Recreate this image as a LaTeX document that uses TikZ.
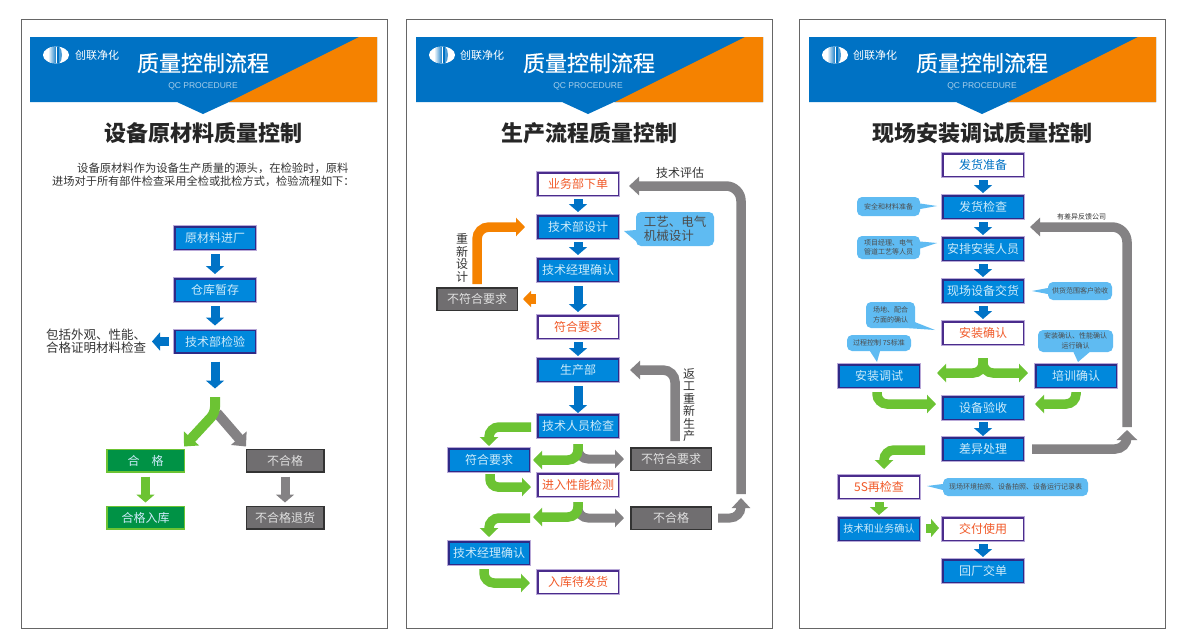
\documentclass[tikz,border=0pt]{standalone}
\usepackage{fontspec}
\usetikzlibrary{arrows.meta,calc}
\setmainfont{Noto Sans CJK SC}
\setsansfont{Liberation Sans}
\newfontfamily\titlefont[FakeBold=0.6]{Noto Sans CJK SC}
\definecolor{hblue}{HTML}{0072C4}
\definecolor{horange}{HTML}{F58200}
\definecolor{bfill}{HTML}{0088DC}
\definecolor{bline}{HTML}{2E2A86}
\definecolor{wline}{HTML}{4A2C8C}
\definecolor{halo}{HTML}{B9A9D8}
\definecolor{tlight}{HTML}{CDEBFA}
\definecolor{tred}{HTML}{F15A29}
\definecolor{ggreen}{HTML}{6CC333}
\definecolor{dgreen}{HTML}{009245}
\definecolor{ggray}{HTML}{848284}
\definecolor{bub}{HTML}{5FBBF2}
\definecolor{arblue}{HTML}{0073C6}
\tikzset{
 x=1pt,y=-1pt,
 boxbase/.style={rectangle,minimum width=80.5pt,minimum height=22.5pt,inner sep=0pt,line width=1.5pt,font=\fontsize{12}{14}\selectfont},
 bluebox/.style={boxbase,draw=bline,fill=bfill,text=tlight,preaction={draw=halo,line width=2.6pt}},
 whitebox/.style={boxbase,draw=wline,fill=white,text=tred,preaction={draw=halo,line width=2.6pt}},
 greenbox/.style={boxbase,draw=ggreen,fill=dgreen,text=tlight,minimum width=77.5pt},
 graybox/.style={boxbase,draw=black!80,fill=ggray!85!black,text=white!88!black},
 blueflow/.style={draw=arblue,line width=9pt,-{Triangle[width=18pt,length=8pt]}},
 greenflow/.style={draw=ggreen,line width=9.5pt,rounded corners=10pt,-{Triangle[width=18pt,length=9pt]}},
 grayflow/.style={draw=ggray,line width=9pt,rounded corners=10pt,-{Triangle[width=18pt,length=9pt]}},
 longgray/.style={draw=ggray,line width=9.5pt,rounded corners=15pt,-{Triangle[width=18pt,length=10pt]}},
 orangeflow/.style={draw=horange,line width=9.5pt,rounded corners=12pt,-{Triangle[width=18pt,length=9pt]}},
 bubble/.style={fill=bub,rounded corners=5pt,inner sep=0pt,text=black!70,align=center},
 bubbletail/.style={fill=bub},
 smalltxt/.style={font=\fontsize{7}{9.5}\selectfont},
 lbl/.style={inner sep=0pt,text=black!80,font=\fontsize{12}{13}\selectfont,align=center},
 panelframe/.style={draw=black!60,line width=0.9pt,fill=white},
 title/.style={inner sep=0pt,text=white,font=\titlefont\fontsize{22}{24}\selectfont},
 subtitle/.style={inner sep=0pt,text=black!85,font=\fontsize{22}{24}\bfseries\selectfont},
 qc/.style={inner sep=0pt,text=white!65!hblue,font=\sffamily\fontsize{8.5}{9}\selectfont},
 logotxt/.style={inner sep=0pt,text=white,font=\fontsize{11}{12}\selectfont},
}
\newcommand{\panelhead}[7]{% x0, frame left, logo cx, logotext cx, title cx, qc cx, notch tip x
 \draw[panelframe] (#2,19) rectangle ++(366,609);
 \fill[hblue] (#1,37) -- ++(347,0) -- ++(0,65) -- (#7+26,102) -- (#7,114) -- (#7-26,102) -- (#1,102) -- cycle;
 \fill[horange] (#1+329,37) -- ++(18,0) -- ++(0,65) -- ++(-148,0) -- cycle;
 \fill[white] (#3,55) ellipse [x radius=13,y radius=8.5];
 \begin{scope}
  \clip (#3,55) ellipse [x radius=13,y radius=8.5];
  \shade[left color=white,right color=hblue!85] (#3-8,46) rectangle (#3-0.5,64);
  \fill[hblue] (#3+0.5,46) rectangle (#3+3,64);
  \fill[hblue!70] (#3+3,46) .. controls (#3+7,50) and (#3+7,60) .. (#3+3,64) -- cycle;
 \end{scope}
 \node[logotxt] (lg#1) at (#4,55) {创联净化};
 \node[title] (ti#1) at (#5,63) {质量控制流程};
 \node[qc] (qc#1) at (#6,86) {QC PROCEDURE};
}
\begin{document}
\begin{tikzpicture}
\useasboundingbox (0,0) rectangle (1186,643);
\fill[white] (0,0) rectangle (1186,643);
% ---------- headers
\panelhead{30}{21}{56}{97}{203}{203}{203}
\panelhead{416}{406}{442}{482}{589}{588}{588}
\panelhead{809}{799}{835}{875}{982}{982}{982}
\node[subtitle] (s1) at (203.5,133) {设备原材料质量控制};
\node[subtitle] (s2) at (589,133) {生产流程质量控制};
\node[subtitle] (s3) at (982.5,133) {现场安装调试质量控制};
% ---------- panel 1
\node[inner sep=0pt,text=black!80,font=\fontsize{11.3}{13}\selectfont,anchor=west] (t1a) at (77,168) {设备原材料作为设备生产质量的源头，在检验时，原料};
\node[inner sep=0pt,text=black!80,font=\fontsize{11.2}{13}\selectfont,anchor=west] (t1b) at (52,181) {进场对于所有部件检查采用全检或批检方式，检验流程如下：};
\node[bluebox] (a1) at (215,238) {原材料进厂};
\node[bluebox] (a2) at (215,290) {仓库暂存};
\node[bluebox] (a3) at (215,341.5) {技术部检验};
\node[greenbox] (a4) at (145.5,460.5) {合\hspace{1em}格};
\node[graybox,minimum width=77.5pt] (a5) at (285,460.5) {不合格};
\node[greenbox] (a6) at (145.5,517.5) {合格入库};
\node[graybox,minimum width=77.5pt] (a7) at (285,517.5) {不合格退货};
\node[lbl,anchor=west,align=left,font=\fontsize{12.5}{13}\selectfont] (a8) at (46,341.5) {包括外观、性能、\\合格证明材料检查};
\draw[blueflow] ([yshift=-4pt]a1.south) -- ([yshift=4pt]a2.north);
\draw[blueflow] ([yshift=-4pt]a2.south) -- ([yshift=4pt]a3.north);
\draw[blueflow] ([yshift=-8pt]a3.south) -- ([yshift=-35pt]a3.south);
\draw[blueflow] ([xshift=-5pt]a3.west) -- (a8.east -| 152,0);
\coordinate (a9) at (215,397);
\draw[draw=ggray,line width=10pt,-{Triangle[width=20pt,length=11pt]}] (217,413) -- ([xshift=-39pt,yshift=2pt]a5.north);
\draw[draw=ggreen,line width=10pt,rounded corners=6pt,-{Triangle[width=20pt,length=11pt]}] (a9) -- (215,413) -- ([xshift=38.5pt,yshift=2pt]a4.north);
\draw[draw=ggreen,line width=9pt,-{Triangle[width=18pt,length=8pt]}] ([yshift=-4pt]a4.south) -- ([yshift=3pt]a6.north);
\draw[draw=ggray,line width=9pt,-{Triangle[width=18pt,length=8pt]}] ([yshift=-4pt]a5.south) -- ([yshift=3pt]a7.north);
% ---------- panel 2
\node[whitebox] (b1) at (578,184) {业务部下单};
\node[bluebox] (b2) at (578,227) {技术部设计};
\node[bluebox] (b3) at (578,270) {技术经理确认};
\node[whitebox] (b4) at (578,327) {符合要求};
\node[bluebox] (b5) at (578,370) {生产部};
\node[bluebox] (b6) at (578,426) {技术人员检查};
\node[bluebox] (b7) at (489,460) {符合要求};
\node[whitebox] (b8) at (578,485) {进入性能检测};
\node[bluebox] (b9) at (489,553) {技术经理确认};
\node[whitebox] (b10) at (578,582) {入库待发货};
\node[graybox] (b11) at (477,299) {不符合要求};
\node[graybox] (b12) at (671,459) {不符合要求};
\node[graybox] (b13) at (671,518) {不合格};
\draw[blueflow] ([yshift=-3pt]b1.south) -- ([yshift=3pt]b2.north);
\draw[blueflow] ([yshift=-3pt]b2.south) -- ([yshift=3pt]b3.north);
\draw[blueflow] ([yshift=-4pt]b3.south) -- ([yshift=3pt]b4.north);
\draw[blueflow] ([yshift=-3pt]b4.south) -- ([yshift=2pt]b5.north);
\draw[blueflow] ([yshift=-4pt]b5.south) -- ([yshift=1pt]b6.north);
\draw[orangeflow] ([yshift=3pt]b11.north) |- ([xshift=-12pt]b2.west);
\draw[orangeflow,rounded corners=0pt,-{Triangle[width=16pt,length=8pt]}] ([xshift=18pt]b11.east) -- ([xshift=5pt]b11.east);
\coordinate (b14) at (741,494);
\draw[longgray] (b14) |- ([xshift=10pt,yshift=-2pt]b1.east);
\draw[longgray,rounded corners=12pt] ([xshift=4pt,yshift=6pt]b12.north) |- ([xshift=11pt]b5.east);
\draw[grayflow,rounded corners=11pt,-{Triangle[width=18pt,length=10pt]}] ([xshift=6pt]b13.east) -| (b14 |- 0,498);
\draw[grayflow] ([yshift=-6pt]b6.south) |- ([xshift=-6pt]b12.west);
\draw[greenflow] ([yshift=-6pt]b6.south) |- ([xshift=3pt]b7.east);
\draw[greenflow] ([xshift=-6pt,yshift=-1pt]b6.west) -| ([yshift=2pt]b7.north);
\draw[greenflow,rounded corners=8pt] ([xshift=1pt,yshift=-2pt]b7.south) |- ([xshift=-6pt,yshift=-2pt]b8.west);
\draw[grayflow] ([yshift=-5pt]b8.south) |- ([xshift=-6pt]b13.west);
\draw[greenflow] ([yshift=-5pt]b8.south) |- ([xshift=-4pt,yshift=-32pt]b8.west);
\draw[greenflow] ([xshift=-7pt,yshift=-33pt]b8.west) -| ([yshift=4pt]b9.north);
\draw[greenflow] ([xshift=-5pt,yshift=-4pt]b9.south) |- ([xshift=-7pt,yshift=-1pt]b10.west);
\node[lbl] (b15) at (680,173) {技术评估};
\node[lbl,font=\fontsize{12}{12.5}\selectfont] (b16) at (462,258) {重\\新\\设\\计};
\node[lbl,font=\fontsize{12}{12.5}\selectfont] (b17) at (689,405) {返\\工\\重\\新\\生\\产};
\node[bubble,minimum width=78pt,minimum height=34pt,font=\fontsize{12.5}{14}\selectfont,align=left] (b18) at (675,229) {工艺、电气\\机械设计};
\fill[bubbletail] ([yshift=-1pt]b18.west) -- (624,231) -- ([yshift=-12pt]b18.west) -- cycle;
% ---------- panel 3
\node[whitebox,text=hblue] (c1) at (983,165) {发货准备};
\node[bluebox] (c2) at (983,207) {发货检查};
\node[bluebox] (c3) at (983,249) {安排安装人员};
\node[bluebox] (c4) at (983,291) {现场设备交货};
\node[whitebox] (c5) at (983,333) {安装确认};
\node[bluebox] (c6) at (879,376) {安装调试};
\node[bluebox] (c7) at (1076,376) {培训确认};
\node[bluebox] (c8) at (983,408) {设备验收};
\node[bluebox] (c9) at (983,449) {差异处理};
\node[whitebox] (c10) at (879,487) {5S再检查};
\node[bluebox,font=\fontsize{10.2}{14}\selectfont] (c11) at (879,529) {技术和业务确认};
\node[whitebox] (c12) at (983,529) {交付使用};
\node[bluebox] (c13) at (983,571) {回厂交单};
\draw[blueflow] ([yshift=-3pt]c1.south) -- ([yshift=2pt]c2.north);
\draw[blueflow] ([yshift=-3pt]c2.south) -- ([yshift=2pt]c3.north);
\draw[blueflow] ([yshift=-3pt]c3.south) -- ([yshift=2pt]c4.north);
\draw[blueflow] ([yshift=-3pt]c4.south) -- ([yshift=2pt]c5.north);
\draw[blueflow] ([yshift=-2pt]c8.south) -- ([yshift=1pt]c9.north);
\draw[blueflow] ([yshift=-3pt]c12.south) -- ([yshift=2pt]c13.north);
\draw[greenflow] ([yshift=-13pt]c5.south) |- ([xshift=17pt,yshift=3pt]c6.east);
\draw[greenflow] ([yshift=-13pt]c5.south) |- ([xshift=-7pt,yshift=3pt]c7.west);
\draw[greenflow] ([xshift=-2pt,yshift=-4pt]c6.south) |- ([xshift=-6pt,yshift=4pt]c8.west);
\draw[greenflow] ([yshift=-4pt]c7.south) |- ([xshift=11pt,yshift=4pt]c8.east);
\draw[greenflow] ([xshift=-17pt,yshift=-1pt]c9.west) -| ([xshift=5pt,yshift=6pt]c10.north);
\draw[draw=ggreen,line width=9pt,-{Triangle[width=18pt,length=8pt]}] ([yshift=-3pt]c10.south) -- ([yshift=2pt]c11.north);
\draw[draw=ggreen,line width=9pt,-{Triangle[width=18pt,length=8pt]}] ([xshift=6pt,yshift=1pt]c11.east) -- ([xshift=-3pt,yshift=1pt]c12.west);
\coordinate (c14) at (1127,427);
\draw[longgray] (c14) |- ([xshift=6pt,yshift=22pt]c3.east);
\draw[longgray,rounded corners=12pt,-{Triangle[width=20pt,length=10pt]}] ([xshift=8pt]c9.east) -| (c14 |- 0,430);
\node[lbl,smalltxt] (c15) at (1081.5,217) {有差异反馈公司};
\node[bubble,smalltxt,minimum width=63pt,minimum height=19pt] (d1) at (888.5,206.5) {安全和材料准备};
\fill[bubbletail] ([yshift=3pt]d1.east) -- (937,206) -- ([yshift=-2.5pt]d1.east) -- cycle;
\node[bubble,smalltxt,minimum width=63pt,minimum height=23pt] (d2) at (888.5,247.5) {项目经理、电气\\管道工艺等人员};
\fill[bubbletail] ([yshift=6pt]d2.east) -- (937,243) -- ([yshift=-1pt]d2.east) -- cycle;
\node[bubble,smalltxt,minimum width=64pt,minimum height=18pt] (d3) at (1080,291) {供货范围客户验收};
\fill[bubbletail] ([yshift=3pt]d3.west) -- (1032,291) -- ([yshift=-3pt]d3.west) -- cycle;
\node[bubble,smalltxt,minimum width=49pt,minimum height=26pt] (d4) at (890.5,315) {场地、配合\\方面的确认};
\fill[bubbletail] ([xshift=-6pt]d4.south east) -- (935,330) -- ([yshift=6pt]d4.south east) -- cycle;
\node[bubble,smalltxt,minimum width=64pt,minimum height=16pt] (d5) at (879,343) {过程控制 7S标准};
\fill[bubbletail] ([xshift=-9pt]d5.south) -- (877,362) -- ([xshift=1pt]d5.south) -- cycle;
\node[bubble,smalltxt,minimum width=75pt,minimum height=22pt] (d6) at (1075.5,341) {安装确认、性能确认\\运行确认};
\fill[bubbletail] ([xshift=-2pt]d6.south) -- (1078,362) -- ([xshift=14pt]d6.south) -- cycle;
\node[bubble,smalltxt,minimum width=145pt,minimum height=18pt] (d7) at (1015.5,487) {现场环境拍照、设备拍照、设备运行记录表};
\fill[bubbletail] ([yshift=3pt]d7.west) -- (927,486) -- ([yshift=-3pt]d7.west) -- cycle;
\end{tikzpicture}
\end{document}
